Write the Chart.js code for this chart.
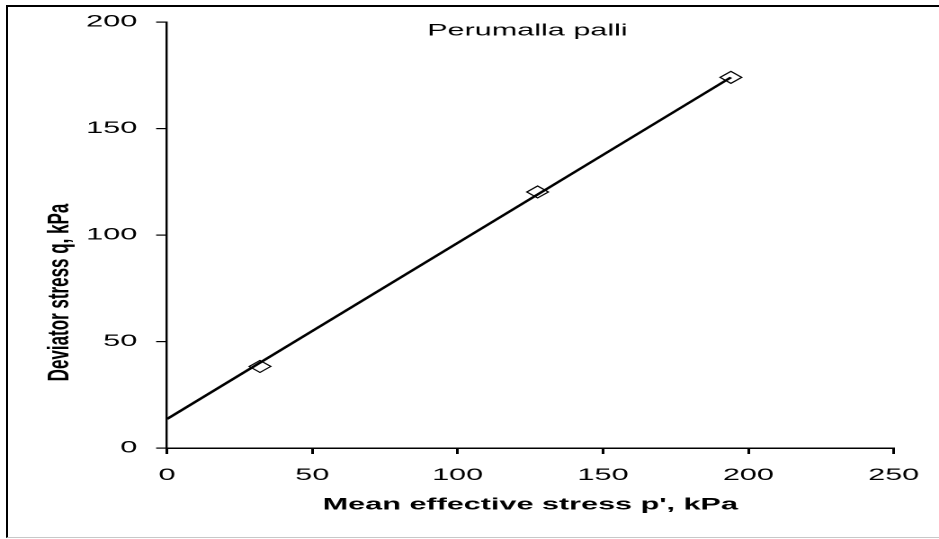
<!DOCTYPE html>
<html>
<head>
<meta charset="utf-8">
<script src="https://cdn.jsdelivr.net/npm/chart.js@4"></script>
<style>
  html, body { margin: 0; padding: 0; background: #fff; overflow: hidden; }
  #frame {
    position: absolute; left: 6px; top: 5px; width: 1000px; height: 533px;
    box-sizing: border-box;
    border-top: 2px solid #000; border-left: 2px solid #000; border-bottom: 1px solid #c8c8c8;
  }
  /* the original figure is stretched sideways, so draw narrow and stretch */
  #wrap {
    position: absolute; left: 0; top: 0; width: 522px; height: 539px;
    transform: scaleX(1.79885); transform-origin: 0 0;
  }
</style>
</head>
<body>
<div id="frame"></div>
<div id="wrap"><canvas id="c"></canvas></div>
<script>
// measured points (mean effective stress p', deviator stress q)
var pValues = [32, 127.5, 194];
var qValues = [38.3, 120.2, 174];
// fitted line
var fitP = [0, 194];
var fitQ = [13.6, 174];
var xTicks = [0, 50, 100, 150, 200, 250];
var yTicks = [0, 50, 100, 150, 200];

var FONT = 'Liberation Sans, Arial, sans-serif';

function pts(xs, ys) {
  return xs.map(function(x, i){ return {x: x, y: ys[i]}; });
}

var extraText = {
  id: 'extraText',
  afterDraw: function(chart) {
    var ctx = chart.ctx, xs = chart.scales.x, ys = chart.scales.y;
    ctx.save();
    ctx.fillStyle = '#000';
    ctx.textAlign = 'center';
    ctx.textBaseline = 'middle';
    ctx.font = '17px ' + FONT;
    ctx.fillText('Perumalla palli', xs.getPixelForValue(124), chart.chartArea.top + 9);
    ctx.translate(33.4, ys.getPixelForValue(73));
    ctx.rotate(-Math.PI / 2);
    ctx.font = 'bold 17px ' + FONT;
    ctx.fillText('Deviator stress q, kPa', 0, 0);
    ctx.restore();
  }
};

new Chart(document.getElementById('c'), {
  type: 'scatter',
  data: {
    datasets: [{
      label: 'fit',
      data: pts(fitP, fitQ),
      showLine: true,
      borderColor: '#000',
      borderWidth: 2,
      pointRadius: 0,
      order: 0
    }, {
      label: 'test',
      data: pts(pValues, qValues),
      showLine: false,
      pointStyle: 'rectRot',
      pointRadius: 6,
      pointHoverRadius: 6,
      backgroundColor: '#fff',
      borderColor: '#000',
      borderWidth: 1,
      order: 1
    }]
  },
  options: {
    responsive: true,
    maintainAspectRatio: false,
    devicePixelRatio: 2,
    animation: false,
    layout: { padding: { left: 0, top: 22, right: 23.4, bottom: 0 } },
    plugins: { legend: { display: false }, tooltip: { enabled: false } },
    scales: {
      x: {
        type: 'linear', min: 0, max: 250,
        afterBuildTicks: function(s){ s.ticks = xTicks.map(function(v){ return {value: v}; }); },
        afterFit: function(s){ s.height = 91; },
        ticks: { color: '#000', font: { family: FONT, size: 17 }, padding: 11, maxRotation: 0 },
        grid: { drawOnChartArea: false, drawTicks: true, tickLength: 6, color: '#000', lineWidth: 1.5 },
        border: { color: '#000', width: 1.5 },
        title: { display: true, text: "Mean effective stress p', kPa", color: '#000',
                 font: { family: FONT, size: 17, weight: 'bold' }, padding: { top: 0, bottom: 24 } }
      },
      y: {
        type: 'linear', min: 0, max: 200,
        afterBuildTicks: function(s){ s.ticks = yTicks.map(function(v){ return {value: v}; }); },
        afterFit: function(s){ s.width = 92.8; },
        ticks: { color: '#000', font: { family: FONT, size: 17 }, padding: 10.5 },
        grid: { drawOnChartArea: false, drawTicks: true, tickLength: 6, color: '#000', lineWidth: 1.2 },
        border: { color: '#000', width: 1.2 }
      }
    }
  },
  plugins: [extraText]
});
</script>
</body>
</html>
